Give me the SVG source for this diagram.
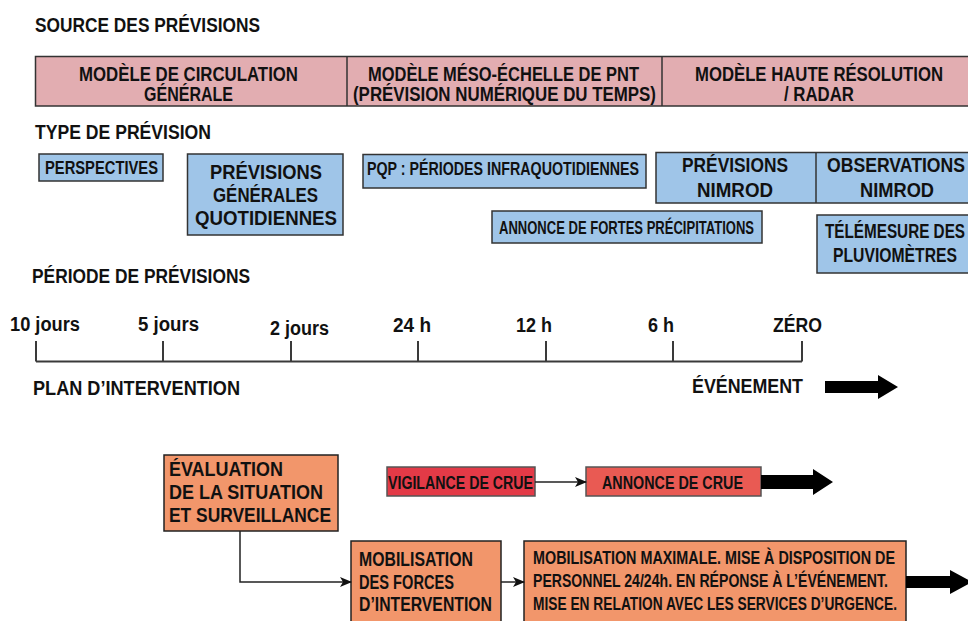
<svg xmlns="http://www.w3.org/2000/svg" width="968" height="621" viewBox="0 0 968 621">
  <style>
    text { font-family: "Liberation Sans Narrow", "Liberation Sans", Arial, sans-serif; font-weight: bold; fill: #111; }
    .h { font-size: 20.5px; }
    .b { font-size: 19.5px; }
    .s { font-size: 18px; }
    .t { font-size: 20px; }
    .band { fill: #e2adb1; stroke: #333; stroke-width: 1.5; }
    .blue { fill: #9fc5e8; stroke: #333; stroke-width: 1.5; }
    .orange { fill: #f2966b; stroke: #222; stroke-width: 1.5; }
    .red { fill: #e33a47; stroke: #555; stroke-width: 1.5; }
    .red2 { fill: #e95a53; stroke: #555; stroke-width: 1.5; }
    .axis { stroke: #3a3a3a; stroke-width: 2; fill: none; }
    .link { stroke: #222; stroke-width: 1.5; fill: none; }
    .big { fill: #000; }
  </style>
  <defs>
    <marker id="ah" markerWidth="12" markerHeight="10" refX="11" refY="5" orient="auto" markerUnits="userSpaceOnUse">
      <path d="M0,0 L12,5 L0,10 L3,5 Z" fill="#111"/>
    </marker>
  </defs>

  <rect width="968" height="621" fill="#fff"/>

  <!-- section headings -->
  <g id="headings">
    <text class="h" x="35" y="32" textLength="225" lengthAdjust="spacingAndGlyphs">SOURCE DES PRÉVISIONS</text>
    <text class="h" x="35" y="139" textLength="176" lengthAdjust="spacingAndGlyphs">TYPE DE PRÉVISION</text>
    <text class="h" x="32" y="283" textLength="218" lengthAdjust="spacingAndGlyphs">PÉRIODE DE PRÉVISIONS</text>
    <text class="h" x="33" y="395" textLength="207" lengthAdjust="spacingAndGlyphs">PLAN D’INTERVENTION</text>
  </g>

  <!-- forecast source band (runs off the right edge) -->
  <g id="source-band">
    <rect class="band" x="35.5" y="56.5" width="934" height="49.5"/>
    <line x1="347" y1="56.5" x2="347" y2="106" stroke="#333" stroke-width="1.5"/>
    <line x1="662" y1="56.5" x2="662" y2="106" stroke="#333" stroke-width="1.5"/>
  </g>
  <g id="src-global">
    <text class="b" x="79" y="81" textLength="219" lengthAdjust="spacingAndGlyphs">MODÈLE DE CIRCULATION</text>
    <text class="b" x="144" y="101" textLength="89" lengthAdjust="spacingAndGlyphs">GÉNÉRALE</text>
  </g>
  <g id="src-meso">
    <text class="b" x="368" y="81" textLength="271" lengthAdjust="spacingAndGlyphs">MODÈLE MÉSO-ÉCHELLE DE PNT</text>
    <text class="b" x="353" y="101" textLength="303" lengthAdjust="spacingAndGlyphs">(PRÉVISION NUMÉRIQUE DU TEMPS)</text>
  </g>
  <g id="src-highres">
    <text class="b" x="695" y="81" textLength="248" lengthAdjust="spacingAndGlyphs">MODÈLE HAUTE RÉSOLUTION</text>
    <text class="b" x="784" y="101" textLength="70" lengthAdjust="spacingAndGlyphs">/ RADAR</text>
  </g>

  <!-- forecast types -->
  <g id="perspectives">
    <rect class="blue" x="39" y="154" width="124" height="27"/>
    <text class="s" x="45" y="173.5" textLength="113" lengthAdjust="spacingAndGlyphs">PERSPECTIVES</text>
  </g>
  <g id="previsions-generales">
    <rect class="blue" x="187.5" y="154" width="155.5" height="81"/>
    <text class="b" x="210" y="179" textLength="112" lengthAdjust="spacingAndGlyphs">PRÉVISIONS</text>
    <text class="b" x="213" y="202" textLength="105" lengthAdjust="spacingAndGlyphs">GÉNÉRALES</text>
    <text class="b" x="195" y="224.5" textLength="142" lengthAdjust="spacingAndGlyphs">QUOTIDIENNES</text>
  </g>
  <g id="pqp">
    <rect class="blue" x="363" y="154.5" width="283" height="33.5"/>
    <text class="s" x="367" y="175" textLength="272" lengthAdjust="spacingAndGlyphs">PQP : PÉRIODES INFRAQUOTIDIENNES</text>
  </g>
  <g id="nimrod">
    <rect class="blue" x="656" y="152.5" width="313.5" height="50.5"/>
    <line x1="816" y1="152.5" x2="816" y2="203" stroke="#333" stroke-width="1.5"/>
    <text class="b" x="682" y="172" textLength="106" lengthAdjust="spacingAndGlyphs">PRÉVISIONS</text>
    <text class="b" x="697" y="196.5" textLength="76" lengthAdjust="spacingAndGlyphs">NIMROD</text>
    <text class="b" x="827" y="172" textLength="138" lengthAdjust="spacingAndGlyphs">OBSERVATIONS</text>
    <text class="b" x="860" y="196.5" textLength="74" lengthAdjust="spacingAndGlyphs">NIMROD</text>
  </g>
  <g id="fortes-precipitations">
    <rect class="blue" x="492" y="211" width="270" height="32"/>
    <text class="s" x="499" y="233.5" textLength="255" lengthAdjust="spacingAndGlyphs">ANNONCE DE FORTES PRÉCIPITATIONS</text>
  </g>
  <g id="telemesure">
    <rect class="blue" x="817" y="215" width="152.5" height="58"/>
    <text class="b" x="825" y="238" textLength="140" lengthAdjust="spacingAndGlyphs">TÉLÉMESURE DES</text>
    <text class="b" x="833" y="261.5" textLength="124" lengthAdjust="spacingAndGlyphs">PLUVIOMÈTRES</text>
  </g>

  <!-- forecast period axis -->
  <g id="timeline">
    <path class="axis" d="M36,361.5 H802 M36,341 V361.5 M163,341 V361.5 M291,341 V361.5 M418,341 V361.5 M546,341 V361.5 M673,341 V361.5 M802,341 V361.5"/>
    <text class="t" x="10" y="331" textLength="70" lengthAdjust="spacingAndGlyphs">10 jours</text>
    <text class="t" x="138" y="331" textLength="61" lengthAdjust="spacingAndGlyphs">5 jours</text>
    <text class="t" x="270" y="335" textLength="59" lengthAdjust="spacingAndGlyphs">2 jours</text>
    <text class="t" x="393" y="332" textLength="38" lengthAdjust="spacingAndGlyphs">24 h</text>
    <text class="t" x="516" y="332" textLength="36" lengthAdjust="spacingAndGlyphs">12 h</text>
    <text class="t" x="648" y="332" textLength="26" lengthAdjust="spacingAndGlyphs">6 h</text>
    <text class="t" x="773" y="332" textLength="49" lengthAdjust="spacingAndGlyphs">ZÉRO</text>
  </g>

  <g id="evenement">
    <text class="h" x="692" y="393" textLength="111" lengthAdjust="spacingAndGlyphs">ÉVÉNEMENT</text>
    <polygon class="big" points="825,381 878,381 878,375 898,387 878,399 878,393 825,393"/>
  </g>

  <!-- intervention plan -->
  <g id="evaluation">
    <rect class="orange" x="164" y="455" width="174" height="76"/>
    <text class="b" x="169" y="476" textLength="114" lengthAdjust="spacingAndGlyphs">ÉVALUATION</text>
    <text class="b" x="169" y="499" textLength="154" lengthAdjust="spacingAndGlyphs">DE LA SITUATION</text>
    <text class="b" x="169" y="522" textLength="162" lengthAdjust="spacingAndGlyphs">ET SURVEILLANCE</text>
  </g>
  <g id="vigilance">
    <rect class="red" x="387" y="467" width="148" height="29"/>
    <text class="s" x="388" y="488.5" textLength="145" lengthAdjust="spacingAndGlyphs">VIGILANCE DE CRUE</text>
  </g>
  <g id="annonce-crue">
    <rect class="red2" x="586" y="467" width="175" height="29"/>
    <text class="s" x="602" y="489" textLength="141" lengthAdjust="spacingAndGlyphs">ANNONCE DE CRUE</text>
  </g>
  <g id="mobilisation-forces">
    <rect class="orange" x="351" y="541" width="150" height="90"/>
    <text class="b" x="359" y="566" textLength="114" lengthAdjust="spacingAndGlyphs">MOBILISATION</text>
    <text class="b" x="359" y="589" textLength="95" lengthAdjust="spacingAndGlyphs">DES FORCES</text>
    <text class="b" x="359" y="611" textLength="133" lengthAdjust="spacingAndGlyphs">D’INTERVENTION</text>
  </g>
  <g id="mobilisation-maximale">
    <rect class="orange" x="524" y="541" width="382" height="90"/>
    <text class="s" x="533" y="564" textLength="362" lengthAdjust="spacingAndGlyphs">MOBILISATION MAXIMALE. MISE À DISPOSITION DE</text>
    <text class="s" x="533" y="587" textLength="355" lengthAdjust="spacingAndGlyphs">PERSONNEL 24/24h. EN RÉPONSE À L’ÉVÉNEMENT.</text>
    <text class="s" x="533" y="609.5" textLength="364" lengthAdjust="spacingAndGlyphs">MISE EN RELATION AVEC LES SERVICES D’URGENCE.</text>
  </g>

  <!-- connectors -->
  <g id="connectors">
    <path class="link" d="M535,482 H586" marker-end="url(#ah)"/>
    <path class="link" d="M240,531 V582 H351" marker-end="url(#ah)"/>
    <path class="link" d="M501,582 H524" marker-end="url(#ah)"/>
    <polygon class="big" points="761,475 813,475 813,469 833,482 813,495 813,489 761,489"/>
    <polygon class="big" points="906,576 950,576 950,570 972,582 950,594 950,588 906,588"/>
  </g>
</svg>
